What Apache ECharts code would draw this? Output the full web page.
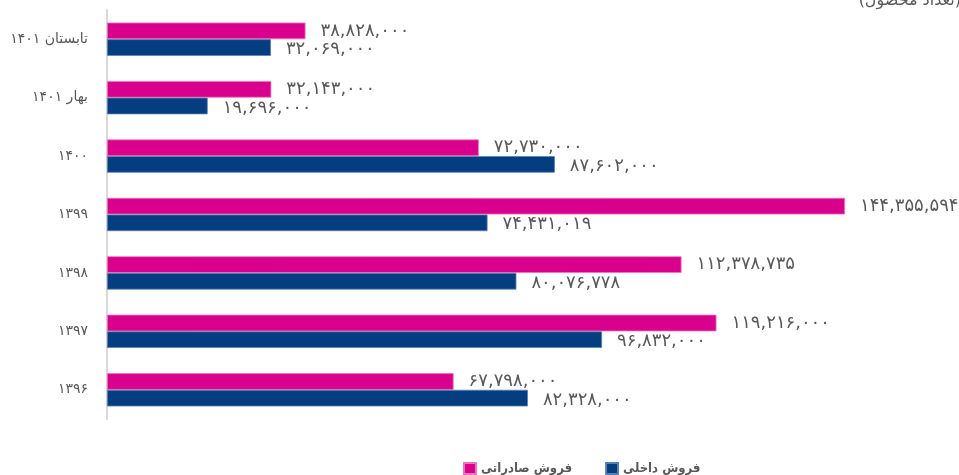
<!DOCTYPE html>
<html>
<head>
<meta charset="utf-8">
<script src="https://cdn.jsdelivr.net/npm/echarts@6/dist/echarts.min.js"></script>
<style>
  html, body { margin: 0; padding: 0; background: #ffffff; }
  #chart { width: 959px; height: 475px; }
</style>
</head>
<body>
<div id="chart"></div>
<script>
// Periods, top to bottom
const categories = ['تابستان ۱۴۰۱', 'بهار ۱۴۰۱', '۱۴۰۰', '۱۳۹۹', '۱۳۹۸', '۱۳۹۷', '۱۳۹۶'];
// Export sales (units)
const exportSales = [38828000, 32143000, 72730000, 144355594, 112378735, 119216000, 67798000];
// Domestic sales (units)
const domesticSales = [32069000, 19696000, 87602000, 74431019, 80076778, 96832000, 82328000];
const seriesNames = ['فروش صادراتی', 'فروش داخلی'];
const unitNote = '(تعداد محصول)';

const FONT = "'DejaVu Sans', 'Noto Sans', sans-serif";
const FONT_NARROW = "'DejaVu Sans Condensed', 'DejaVu Sans', sans-serif";
const TEXT = '#595959';

// Thousands-separated number written with Persian digits
function toPersian(n) {
  const s = Math.round(n).toString().replace(/\B(?=(\d{3})+(?!\d))/g, ',');
  return s.replace(/\d/g, d => '۰۱۲۳۴۵۶۷۸۹'[+d]);
}

const chart = echarts.init(document.getElementById('chart'), null, { renderer: 'canvas' });

const valueLabel = {
  show: true,
  position: 'right',
  distance: 15,
  color: TEXT,
  fontFamily: FONT,
  fontSize: 18,
  formatter: p => toPersian(p.value)
};

chart.setOption({
  animation: false,
  backgroundColor: '#ffffff',
  textStyle: { fontFamily: FONT },
  grid: { left: 107, top: 10, height: 409, width: 818, containLabel: false },
  xAxis: {
    type: 'value',
    min: 0,
    max: 160000000,
    show: false
  },
  yAxis: {
    type: 'category',
    data: categories,
    inverse: true,
    axisLine: { show: true, lineStyle: { color: '#D9D9D9', width: 2 } },
    axisTick: { show: false },
    axisLabel: { color: TEXT, fontFamily: FONT, fontSize: 14, margin: 19 },
    splitLine: { show: false }
  },
  legend: {
    data: seriesNames,
    left: 463,
    top: 462,
    padding: 0,
    icon: 'rect',
    itemWidth: 12,
    itemHeight: 11,
    itemGap: 33,
    textStyle: {
      color: TEXT, fontFamily: FONT_NARROW, fontSize: 13, fontWeight: 'bold',
      lineHeight: 8, verticalAlign: 'bottom'
    }
  },
  graphic: [{
    type: 'text',
    right: -2,
    top: -7,
    style: { text: unitNote, fill: TEXT, font: "16px " + FONT }
  }],
  series: [
    {
      name: seriesNames[0],
      type: 'bar',
      data: exportSales,
      barGap: '0%',
      barCategoryGap: '43%',
      itemStyle: { color: '#D9008D', borderColor: '#EC74BE', borderWidth: 0.8 },
      label: valueLabel
    },
    {
      name: seriesNames[1],
      type: 'bar',
      data: domesticSales,
      itemStyle: { color: '#053E80', borderColor: '#5A7FB0', borderWidth: 0.8 },
      label: Object.assign({}, valueLabel, { offset: [0, 2] })
    }
  ]
});
</script>
</body>
</html>
